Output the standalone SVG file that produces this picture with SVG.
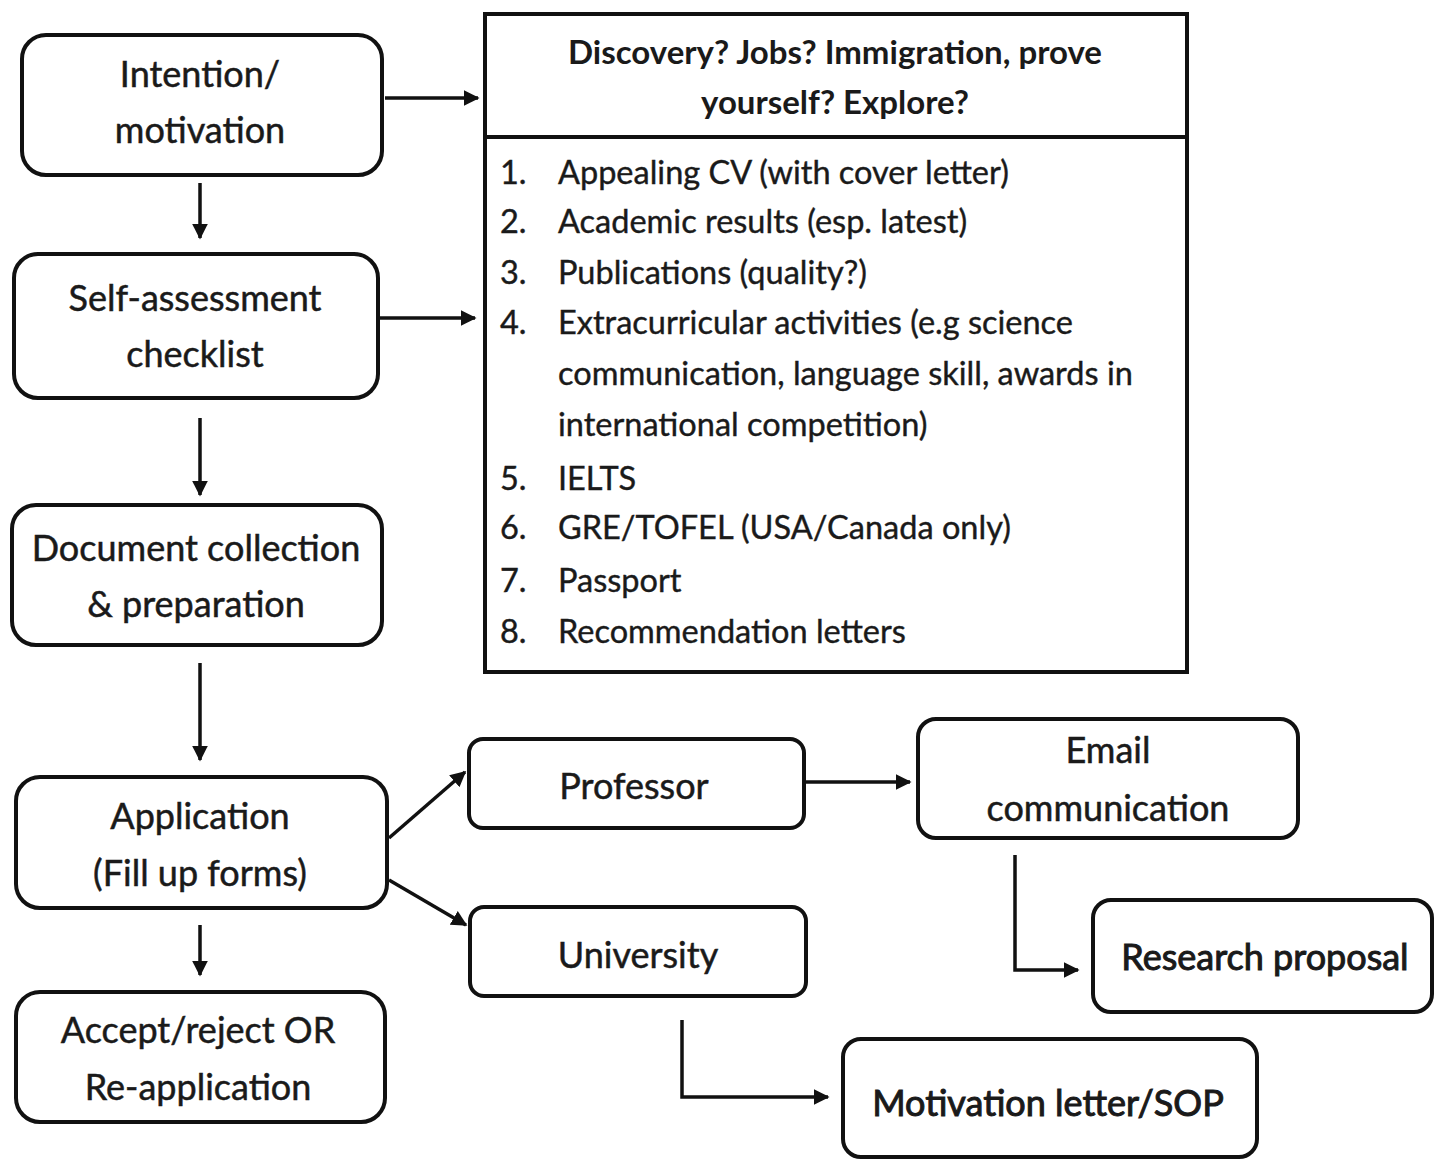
<svg xmlns="http://www.w3.org/2000/svg" width="1435" height="1159" viewBox="0 0 1435 1159">
<defs>
<style>
.box{fill:#fff;stroke:#111;stroke-width:4}
.t{font-family:Lato,"Open Sans",sans-serif;font-size:36px;fill:#1a1a1a;text-anchor:middle;stroke:#1a1a1a;stroke-width:0.5}
.h{font-family:Lato,"Open Sans",sans-serif;font-size:33px;font-weight:bold;fill:#1a1a1a;text-anchor:middle}
.li{font-family:Lato,"Open Sans",sans-serif;font-size:32.5px;fill:#1a1a1a;stroke:#1a1a1a;stroke-width:0.4}
.c{fill:none;stroke:#111;stroke-width:3.5}
</style>
<marker id="ah" viewBox="0 0 10 10" refX="9" refY="5" markerWidth="4.5" markerHeight="4.5" orient="auto" markerUnits="strokeWidth">
<path d="M0,0 L10,5 L0,10 z" fill="#111"/>
</marker>
</defs>
<rect width="1435" height="1159" fill="#fff"/>
<g id="connectors">
<line class="c" x1="385" y1="98" x2="478" y2="98" marker-end="url(#ah)"/>
<line class="c" x1="380" y1="318" x2="475" y2="318" marker-end="url(#ah)"/>
<line class="c" x1="200" y1="183" x2="200" y2="238" marker-end="url(#ah)"/>
<line class="c" x1="200" y1="418" x2="200" y2="495" marker-end="url(#ah)"/>
<line class="c" x1="200" y1="663" x2="200" y2="760" marker-end="url(#ah)"/>
<line class="c" x1="200" y1="925" x2="200" y2="975" marker-end="url(#ah)"/>
<line class="c" x1="389" y1="838" x2="465" y2="772" marker-end="url(#ah)"/>
<line class="c" x1="389" y1="880" x2="466" y2="925" marker-end="url(#ah)"/>
<line class="c" x1="806" y1="782" x2="910" y2="782" marker-end="url(#ah)"/>
<polyline class="c" points="1015,855 1015,970 1078,970" marker-end="url(#ah)"/>
<polyline class="c" points="682,1020 682,1097 828,1097" marker-end="url(#ah)"/>
</g>
<g id="intention">
<rect class="box" x="22" y="35" width="360" height="140" rx="24"/>
<text class="t" x="200" y="87">Intention/</text>
<text class="t" x="200" y="143">motivation</text>
</g>
<g id="checklist-box">
<rect fill="#fff" stroke="#111" stroke-width="4" x="485" y="14" width="702" height="658"/>
<line x1="485" y1="137" x2="1187" y2="137" stroke="#111" stroke-width="4"/>
<text class="h" x="835" y="64">Discovery? Jobs? Immigration, prove</text>
<text class="h" x="835" y="114">yourself? Explore?</text>
<g class="li">
<text x="500" y="184">1.</text><text x="558" y="184">Appealing CV (with cover letter)</text>
<text x="500" y="233">2.</text><text x="558" y="233">Academic results (esp. latest)</text>
<text x="500" y="284">3.</text><text x="558" y="284">Publications (quality?)</text>
<text x="500" y="334">4.</text><text x="558" y="334">Extracurricular activities (e.g science</text>
<text x="558" y="385">communication, language skill, awards in</text>
<text x="558" y="436">international competition)</text>
<text x="500" y="490">5.</text><text x="558" y="490">IELTS</text>
<text x="500" y="539">6.</text><text x="558" y="539">GRE/TOFEL (USA/Canada only)</text>
<text x="500" y="592">7.</text><text x="558" y="592">Passport</text>
<text x="500" y="643">8.</text><text x="558" y="643">Recommendation  letters</text>
</g>
</g>
<g id="self-assessment">
<rect class="box" x="14" y="254" width="364" height="144" rx="24"/>
<text class="t" x="195" y="311">Self-assessment</text>
<text class="t" x="195" y="367">checklist</text>
</g>
<g id="document">
<rect class="box" x="12" y="505" width="370" height="140" rx="24"/>
<text class="t" x="196" y="561">Document collection</text>
<text class="t" x="196" y="617">&amp; preparation</text>
</g>
<g id="application">
<rect class="box" x="16" y="777" width="371" height="131" rx="24"/>
<text class="t" x="200" y="829">Application</text>
<text class="t" x="200" y="886">(Fill up forms)</text>
</g>
<g id="accept">
<rect class="box" x="16" y="992" width="369" height="130" rx="24"/>
<text class="t" x="198" y="1043">Accept/reject OR</text>
<text class="t" x="198" y="1100">Re-application</text>
</g>
<g id="professor">
<rect class="box" x="469" y="739" width="335" height="89" rx="14"/>
<text class="t" x="634" y="799">Professor</text>
</g>
<g id="university">
<rect class="box" x="470" y="907" width="336" height="89" rx="14"/>
<text class="t" x="638" y="968">University</text>
</g>
<g id="email">
<rect class="box" x="918" y="719" width="380" height="119" rx="18"/>
<text class="t" x="1108" y="763">Email</text>
<text class="t" x="1108" y="821">communication</text>
</g>
<g id="research">
<rect class="box" x="1093" y="900" width="339" height="112" rx="18"/>
<text class="t" x="1265" y="970" style="stroke-width:1">Research proposal</text>
</g>
<g id="sop">
<rect class="box" x="843" y="1039" width="414" height="118" rx="18"/>
<text class="t" x="1048" y="1116" style="stroke-width:1">Motivation letter/SOP</text>
</g>
</svg>
